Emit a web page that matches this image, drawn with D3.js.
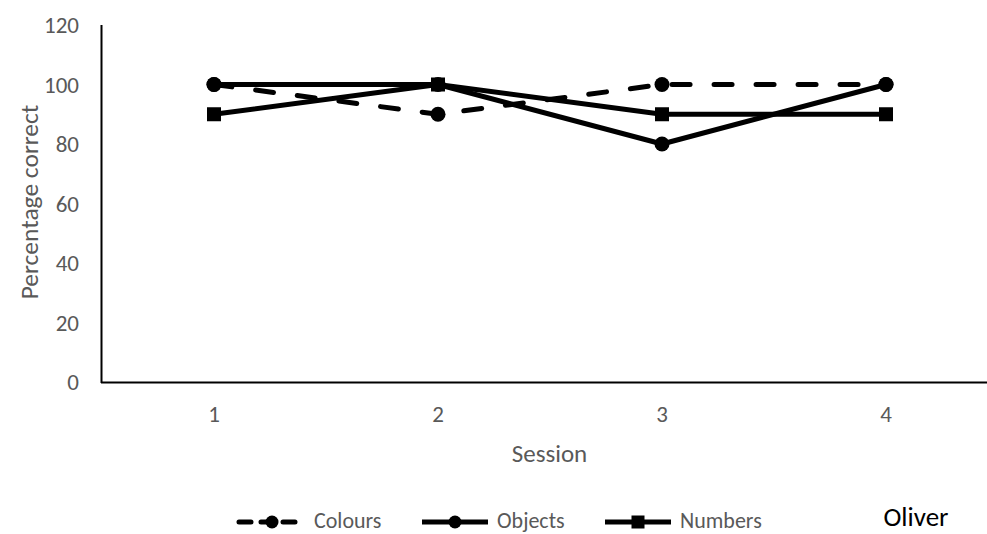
<!DOCTYPE html>
<html><head><meta charset="utf-8">
<script src="https://cdn.jsdelivr.net/npm/d3@7"></script>
<style>body{margin:0;background:#fff}svg{display:block}</style>
</head><body>
<svg id="c" width="987" height="534"></svg>
<script>
const sessions = ["1","2","3","4"];
const colours = [100, 90, 100, 100];
const objects = [100, 100, 80, 100];
const numbers = [90, 100, 90, 90];
const yTicks = [0,20,40,60,80,100,120];
const seriesNames = ["Colours","Objects","Numbers"];

const font = "Carlito, 'Liberation Sans Narrow', 'DejaVu Sans Condensed', sans-serif";
const svg = d3.select("#c");
const x = d3.scalePoint().domain(sessions).range([214, 886]);
const y = d3.scaleLinear().domain([0,120]).range([382, 25]);

// axes
svg.append("line").attr("x1",101.5).attr("x2",101.5).attr("y1",25).attr("y2",383).attr("stroke","#000").attr("stroke-width",2);
svg.append("line").attr("x1",101).attr("x2",987).attr("y1",382.5).attr("y2",382.5).attr("stroke","#000").attr("stroke-width",2);

svg.selectAll(".yt").data(yTicks).enter().append("text")
  .attr("x",79).attr("y",d=>y(d)).attr("dy","0.35em").attr("text-anchor","end")
  .attr("font-family",font).attr("font-size",23).attr("fill","#595959").text(d=>d);
svg.selectAll(".xt").data(sessions).enter().append("text")
  .attr("x",d=>x(d)).attr("y",414).attr("dy","0.35em").attr("text-anchor","middle")
  .attr("font-family",font).attr("font-size",23).attr("fill","#595959").text(d=>d);

svg.append("text").attr("transform","translate(38,202) rotate(-90)").attr("text-anchor","middle")
  .attr("font-family",font).attr("font-size",25.5).attr("fill","#595959").text("Percentage correct");
svg.append("text").attr("x",549.5).attr("y",462).attr("text-anchor","middle")
  .attr("font-family",font).attr("font-size",25).attr("fill","#595959").text("Session");

const series = [
  {name:"Colours", vals:colours, dash:"18,24", marker:"circle"},
  {name:"Objects", vals:objects, dash:null, marker:"circle"},
  {name:"Numbers", vals:numbers, dash:null, marker:"square"}
];
const line = d3.line().x((d,i)=>x(sessions[i])).y(d=>y(d));
series.forEach(s=>{
  svg.append("path").attr("d",line(s.vals)).attr("fill","none").attr("stroke","#000")
    .attr("stroke-width",5).attr("stroke-dasharray",s.dash).attr("stroke-linecap",s.dash?"round":"butt")
    .attr("stroke-linejoin","round");
});
series.forEach(s=>{
  s.vals.forEach((v,i)=>{
    if(s.marker==="circle"){
      svg.append("circle").attr("cx",x(sessions[i])).attr("cy",y(v)).attr("r",7.5).attr("fill","#000");
    } else {
      svg.append("rect").attr("x",x(sessions[i])-7).attr("y",y(v)-7).attr("width",14).attr("height",14).attr("fill","#000");
    }
  });
});

// legend
const legX = [237, 420, 603];
series.forEach((s,i)=>{
  const lx = legX[i], ly = 522;
  svg.append("line").attr("x1",lx+2).attr("x2",lx+68).attr("y1",ly).attr("y2",ly)
    .attr("stroke","#000").attr("stroke-width",5).attr("stroke-dasharray",s.dash?"12,10":null).attr("stroke-linecap",s.dash?"round":"butt");
  const mx = lx + 35;
  if(s.marker==="circle") svg.append("circle").attr("cx",mx).attr("cy",ly).attr("r",6.5).attr("fill","#000");
  else svg.append("rect").attr("x",mx-6.5).attr("y",ly-6.5).attr("width",13).attr("height",13).attr("fill","#000");
  svg.append("text").attr("x",lx + 77).attr("y",ly - 1).attr("dy","0.33em")
    .attr("font-family",font).attr("font-size",22).attr("fill","#595959").text(s.name);
});
svg.append("text").attr("x",916).attr("y",526).attr("text-anchor","middle")
  .attr("font-family",font).attr("font-size",27).attr("fill","#000").text("Oliver");
</script>
</body></html>
